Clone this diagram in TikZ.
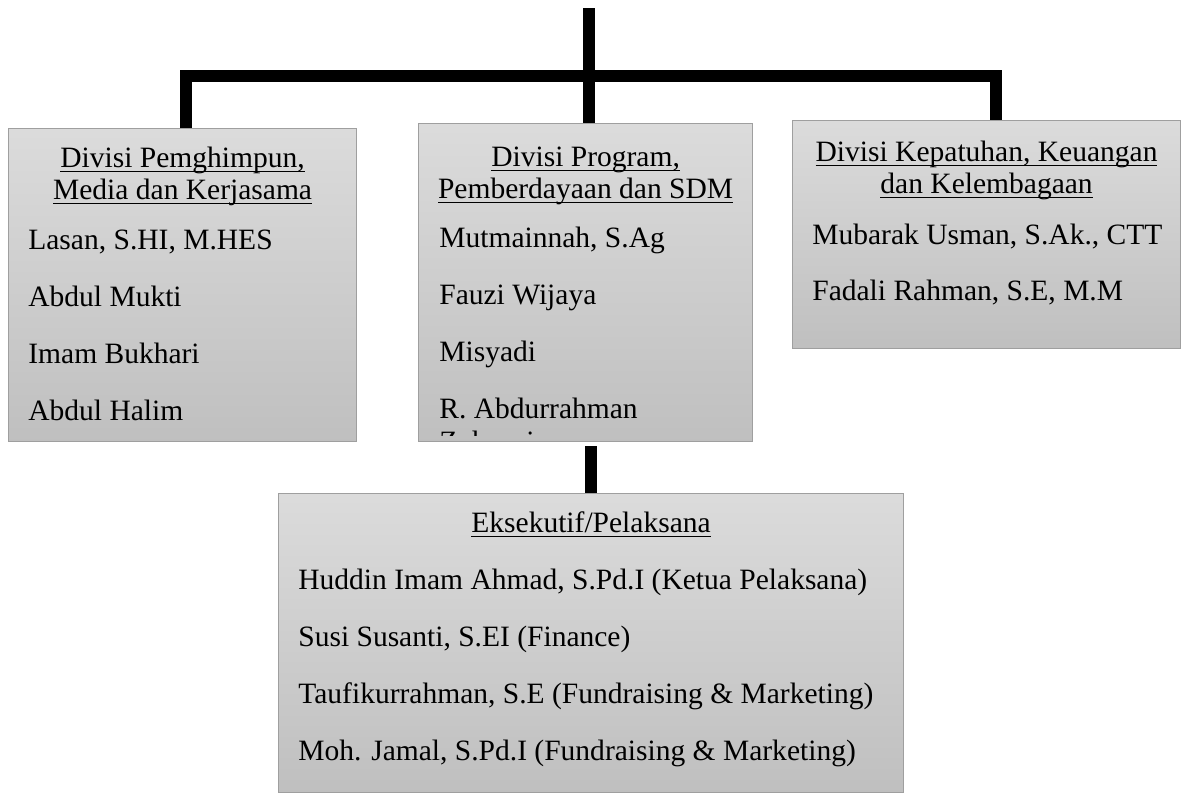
\documentclass[tikz,border=0pt]{standalone}
\usepackage{fontspec}
\setmainfont{Liberation Serif}
\usetikzlibrary{positioning}

\newcommand{\titleline}[1]{\setbox0\hbox{#1}\rlap{\rule[-3pt]{\wd0}{0.9pt}}\box0}

\tikzset{
	divbox/.style={draw=gray!75, line width=0.7pt, top color=gray!28, bottom color=gray!50, inner sep=0pt, anchor=north west},
	txt/.style={font=\fontsize{16.8}{20}\selectfont, inner sep=0pt},
	link/.style={line width=0.24cm, line join=miter}
}

\begin{document}
\begin{tikzpicture}[x=0.02cm, y=-0.02cm]
	\useasboundingbox (0,0) rectangle (1190,795);

	% division boxes
	\node[divbox, minimum width=6.96cm, minimum height=6.26cm] (pemghimpun) at (8,128) {};
	\node[divbox, minimum width=6.68cm, minimum height=6.36cm] (program) at (418,123) {};
	\node[divbox, minimum width=7.76cm, minimum height=4.56cm] (kepatuhan) at (792,120) {};
	\node[divbox, minimum width=12.50cm, minimum height=5.98cm] (eksekutif) at (278,493) {};

	% titles
	\node[txt, anchor=base] (pemghimpun-t1) at (pemghimpun.north |- 0,167) {\titleline{Divisi Pemghimpun,}};
	\node[txt, anchor=base] (pemghimpun-t2) at (pemghimpun.north |- 0,199) {\titleline{Media dan Kerjasama}};
	\node[txt, anchor=base] (program-t1) at (program.north |- 0,166) {\titleline{Divisi Program,}};
	\node[txt, anchor=base] (program-t2) at (program.north |- 0,198) {\titleline{Pemberdayaan dan SDM}};
	\node[txt, anchor=base] (kepatuhan-t1) at (kepatuhan.north |- 0,161) {\titleline{Divisi Kepatuhan, Keuangan}};
	\node[txt, anchor=base] (kepatuhan-t2) at (kepatuhan.north |- 0,193) {\titleline{dan Kelembagaan}};
	\node[txt, anchor=base] (eksekutif-t1) at (eksekutif.north |- 0,532) {\titleline{Eksekutif/Pelaksana}};

	% members
	\foreach \who [count=\i from 0] in {{Lasan, S.HI, M.HES}, {Abdul Mukti}, {Imam Bukhari}, {Abdul Halim}}
		\node[txt, anchor=base west] (pemghimpun-\i) at (28,{249+57*\i}) {\who};
	\foreach \who [count=\i from 0] in {{Mutmainnah, S.Ag}, {Fauzi Wijaya}, {Misyadi}, {R. Abdurrahman}}
		\node[txt, anchor=base west] (program-\i) at (439,{247+57*\i}) {\who};
	\begin{scope}
		% wrapped line, cut off by the text area
		\clip ([yshift=0.14cm]program.south west) rectangle (program.north east);
		\node[txt, anchor=base west] (program-4) at (439,451) {Zuhroni};
	\end{scope}
	\foreach \who [count=\i from 0] in {{Mubarak Usman, S.Ak., CTT}, {Fadali Rahman, S.E, M.M}}
		\node[txt, anchor=base west] (kepatuhan-\i) at (812,{244+56*\i}) {\who};
	\foreach \who [count=\i from 0] in {{Huddin Imam Ahmad, S.Pd.I (Ketua Pelaksana)}, {Susi Susanti, S.EI (Finance)}, {Taufikurrahman, S.E (Fundraising \& Marketing)}, {Moh. Jamal, S.Pd.I (Fundraising \& Marketing)}}
		\node[txt, anchor=base west] (eksekutif-\i) at (298,{589+57*\i}) {\who};

	% connectors
	\coordinate (root) at (589,8);
	\coordinate (hub-l) at (186,76);
	\coordinate (hub-r) at (996,76);
	\coordinate (mid) at (591,446);
	\draw[link] (root) -- (root |- program.north);
	\draw[link] (hub-l |- pemghimpun.north) -- (hub-l) -- (hub-r) -- (hub-r |- kepatuhan.north);
	\draw[link] (mid) -- (mid |- eksekutif.north);
\end{tikzpicture}
\end{document}
